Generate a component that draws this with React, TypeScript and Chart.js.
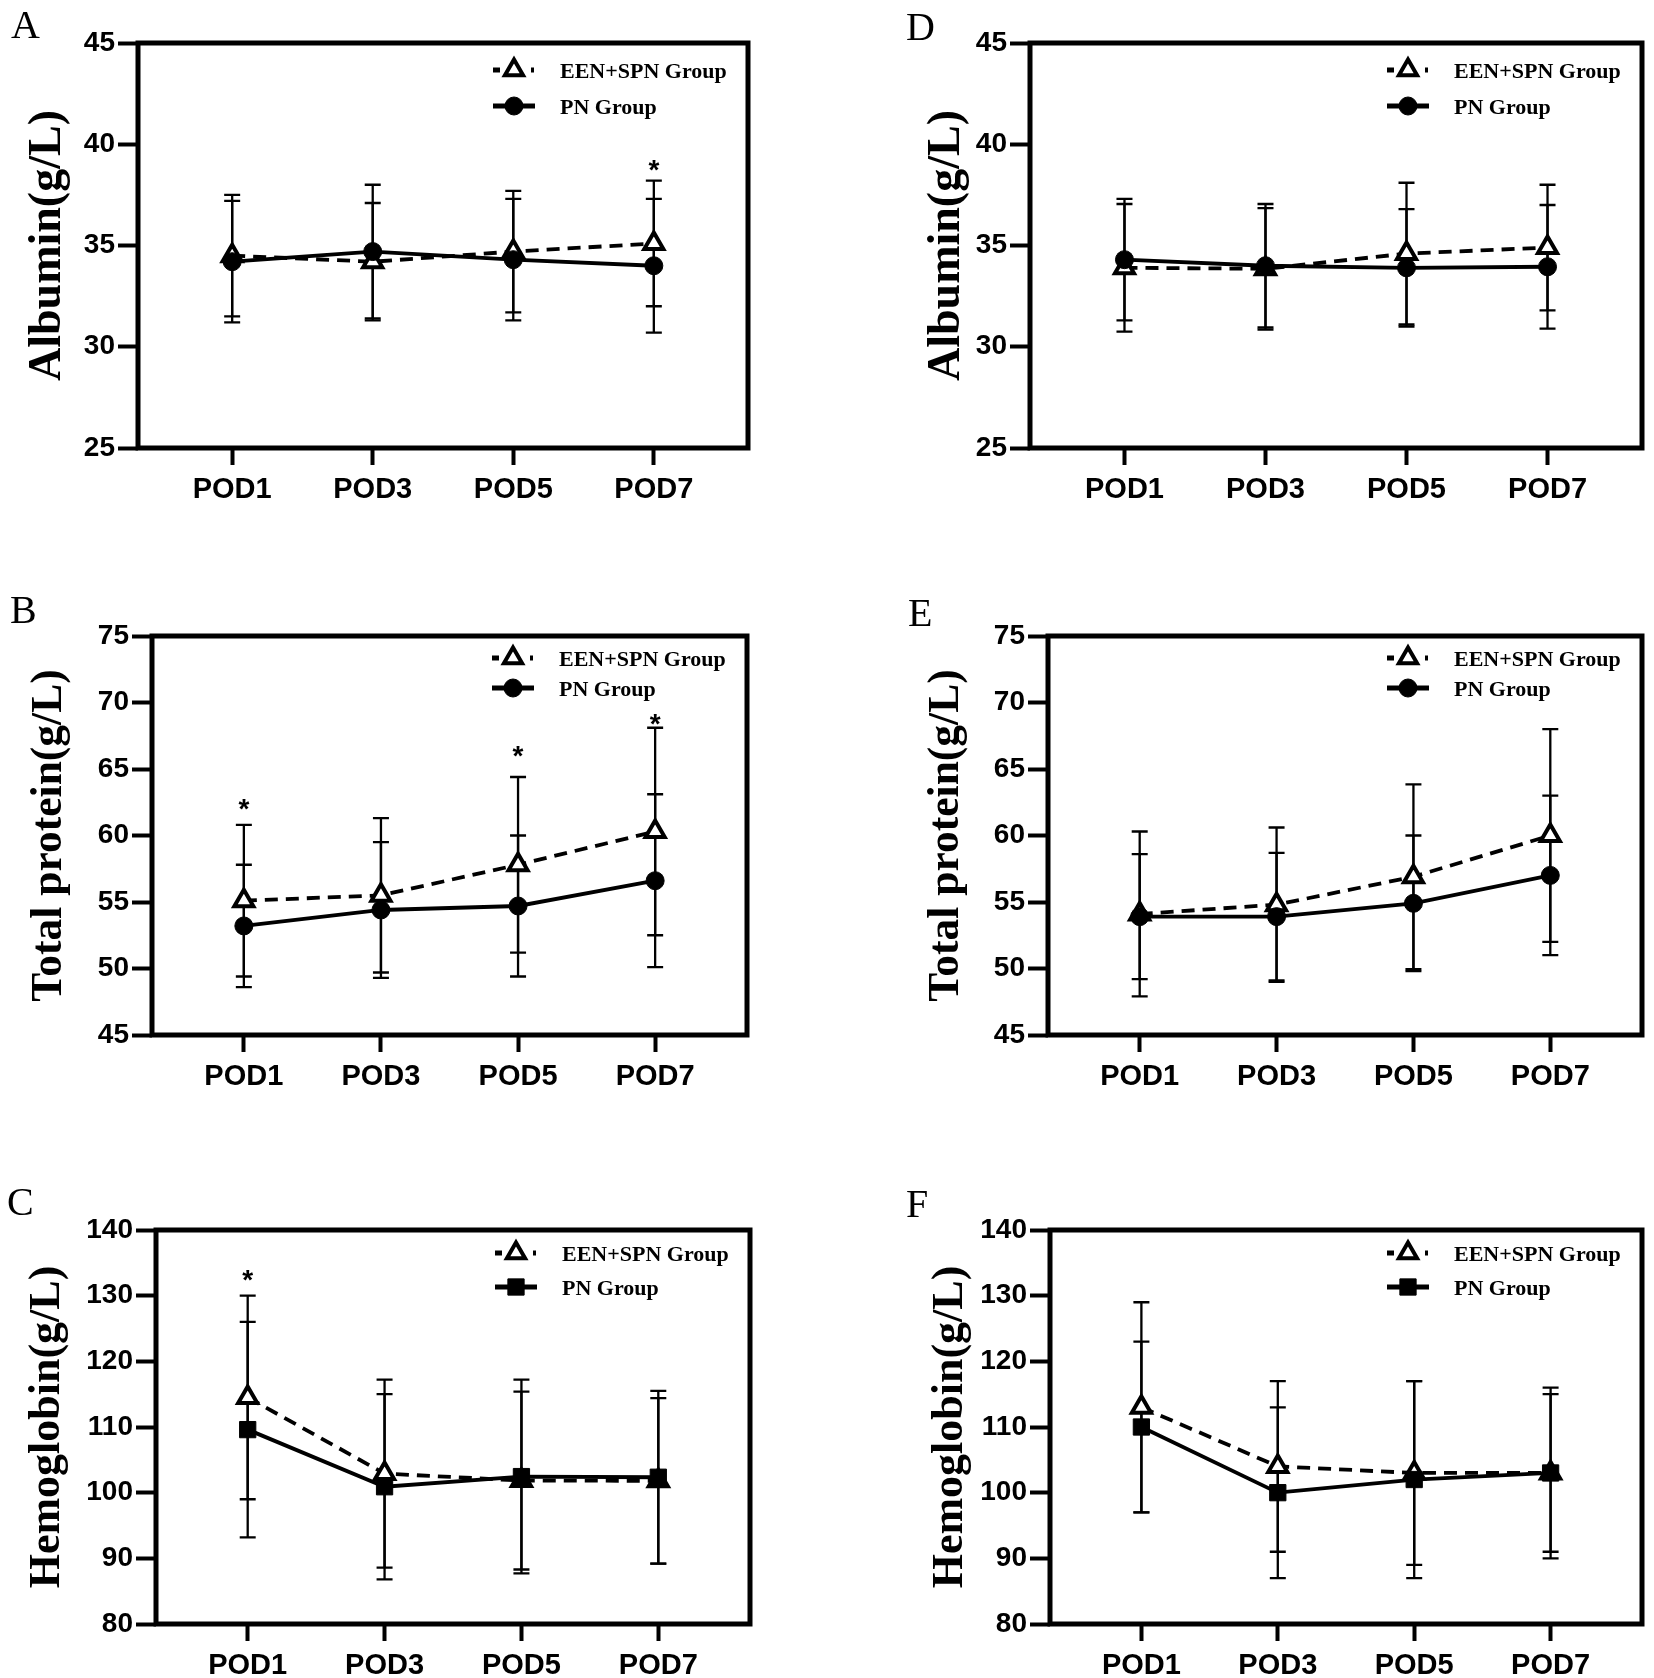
import React, { useEffect, useRef } from 'react';
import { Chart, registerables } from 'chart.js';

Chart.register(...registerables);

// ---------------- DATA ----------------
const categories = ['POD1', 'POD3', 'POD5', 'POD7'];
const seriesNames = ['EEN+SPN Group', 'PN Group'];

// A: Albumin (left)
const albuminEenA = [34.5, 34.2, 34.7, 35.1];
const albuminEenSdA = [3.0, 2.9, 3.0, 3.1];
const albuminPnA = [34.2, 34.7, 34.3, 34.0];
const albuminPnSdA = [3.0, 3.3, 3.0, 3.3];
const albuminSigA = [null, null, null, 39.1];

// D: Albumin (right)
const albuminEenD = [33.9, 33.85, 34.6, 34.9];
const albuminEenSdD = [3.15, 3.0, 3.5, 3.1];
const albuminPnD = [34.3, 34.0, 33.9, 33.95];
const albuminPnSdD = [3.0, 3.05, 2.9, 3.05];
const albuminSigD = [null, null, null, null];

// B: Total protein (left)
const proteinEenB = [55.1, 55.5, 57.8, 60.3];
const proteinEenSdB = [5.7, 5.8, 6.6, 7.8];
const proteinPnB = [53.2, 54.4, 54.7, 56.6];
const proteinPnSdB = [4.6, 5.1, 5.3, 6.5];
const proteinSigB = [62.5, null, 66.5, 68.9];

// E: Total protein (right)
const proteinEenE = [54.1, 54.8, 56.9, 60.0];
const proteinEenSdE = [6.2, 5.8, 6.95, 8.0];
const proteinPnE = [53.9, 53.9, 54.9, 57.0];
const proteinPnSdE = [4.7, 4.8, 5.1, 6.0];
const proteinSigE = [null, null, null, null];

// C: Hemoglobin (left)
const hemoEenC = [114.5, 102.9, 101.85, 101.8];
const hemoEenSdC = [15.5, 14.3, 13.55, 12.6];
const hemoPnC = [109.6, 100.9, 102.45, 102.35];
const hemoPnSdC = [16.4, 14.1, 14.75, 13.15];
const hemoSigC = [133.5, null, null, null];

// F: Hemoglobin (right)
const hemoEenF = [113, 104, 103, 103];
const hemoEenSdF = [16, 13, 14, 13];
const hemoPnF = [110, 100, 102, 103];
const hemoPnSdF = [13, 13, 15, 12];
const hemoSigF = [null, null, null, null];

// ---------------- LAYOUT ----------------
const X_MIN = -0.67;
const X_MAX = 3.67;
const SANS = "'Liberation Sans', Arial, sans-serif";
const SERIF = "'Liberation Serif', 'Times New Roman', serif";

type Panel = {
  letter: string;
  yTitle: string;
  yMin: number; yMax: number; yStep: number;
  een: number[]; eenSd: number[]; pn: number[]; pnSd: number[];
  sig: (number | null)[];
  pnStyle: 'circle' | 'rect';
  canvas: { x: number; y: number; w: number; h: number };
  plot: { l: number; t: number; r: number; b: number };
  titleCx: number; titleSize: number;
  legendRows: number[];
  letterPos: { x: number; y: number };
};

const LEFT_C = { x: 0, w: 830 };
const RIGHT_C = { x: 830, w: 824 };
const ROW1 = { y: 0, h: 520 };
const ROW2 = { y: 520, h: 575 };
const ROW3 = { y: 1095, h: 583 };

const panels: Panel[] = [
  {
    letter: 'A', yTitle: 'Albumin(g/L)', yMin: 25, yMax: 45, yStep: 5,
    een: albuminEenA, eenSd: albuminEenSdA, pn: albuminPnA, pnSd: albuminPnSdA, sig: albuminSigA, pnStyle: 'circle',
    canvas: { ...LEFT_C, ...ROW1 }, plot: { l: 138, t: 43, r: 748, b: 448 },
    titleCx: 48, titleSize: 46, legendRows: [27, 63], letterPos: { x: 11, y: 38 },
  },
  {
    letter: 'D', yTitle: 'Albumin(g/L)', yMin: 25, yMax: 45, yStep: 5,
    een: albuminEenD, eenSd: albuminEenSdD, pn: albuminPnD, pnSd: albuminPnSdD, sig: albuminSigD, pnStyle: 'circle',
    canvas: { ...RIGHT_C, ...ROW1 }, plot: { l: 1030, t: 43, r: 1642, b: 448 },
    titleCx: 947, titleSize: 46, legendRows: [27, 63], letterPos: { x: 906, y: 40 },
  },
  {
    letter: 'B', yTitle: 'Total protein(g/L)', yMin: 45, yMax: 75, yStep: 5,
    een: proteinEenB, eenSd: proteinEenSdB, pn: proteinPnB, pnSd: proteinPnSdB, sig: proteinSigB, pnStyle: 'circle',
    canvas: { ...LEFT_C, ...ROW2 }, plot: { l: 152, t: 636, r: 747, b: 1035 },
    titleCx: 50, titleSize: 43.5, legendRows: [22, 52], letterPos: { x: 10, y: 623 },
  },
  {
    letter: 'E', yTitle: 'Total protein(g/L)', yMin: 45, yMax: 75, yStep: 5,
    een: proteinEenE, eenSd: proteinEenSdE, pn: proteinPnE, pnSd: proteinPnSdE, sig: proteinSigE, pnStyle: 'circle',
    canvas: { ...RIGHT_C, ...ROW2 }, plot: { l: 1048, t: 636, r: 1642, b: 1035 },
    titleCx: 947, titleSize: 43.5, legendRows: [22, 52], letterPos: { x: 908, y: 626 },
  },
  {
    letter: 'C', yTitle: 'Hemoglobin(g/L)', yMin: 80, yMax: 140, yStep: 10,
    een: hemoEenC, eenSd: hemoEenSdC, pn: hemoPnC, pnSd: hemoPnSdC, sig: hemoSigC, pnStyle: 'rect',
    canvas: { ...LEFT_C, ...ROW3 }, plot: { l: 156, t: 1230, r: 750, b: 1624 },
    titleCx: 48, titleSize: 44, legendRows: [23, 57], letterPos: { x: 7, y: 1215 },
  },
  {
    letter: 'F', yTitle: 'Hemoglobin(g/L)', yMin: 80, yMax: 140, yStep: 10,
    een: hemoEenF, eenSd: hemoEenSdF, pn: hemoPnF, pnSd: hemoPnSdF, sig: hemoSigF, pnStyle: 'rect',
    canvas: { ...RIGHT_C, ...ROW3 }, plot: { l: 1050, t: 1230, r: 1642, b: 1624 },
    titleCx: 951, titleSize: 44, legendRows: [23, 57], letterPos: { x: 906, y: 1217 },
  },
];

// ---------------- PLUGIN ----------------
function drawMarker(ctx: CanvasRenderingContext2D, style: string, x: number, y: number, r: number, fill: string, bw: number) {
  ctx.save();
  ctx.beginPath();
  if (style === 'triangle') {
    for (let k = 0; k < 3; k++) {
      const a = (k * 2 * Math.PI) / 3;
      const px = x + Math.sin(a) * r;
      const py = y - Math.cos(a) * r;
      if (k === 0) ctx.moveTo(px, py); else ctx.lineTo(px, py);
    }
    ctx.closePath();
  } else if (style === 'rect') {
    const s = r * Math.SQRT1_2;
    ctx.rect(x - s, y - s, 2 * s, 2 * s);
  } else {
    ctx.arc(x, y, r, 0, Math.PI * 2);
  }
  ctx.fillStyle = fill;
  ctx.fill();
  ctx.lineWidth = bw;
  ctx.strokeStyle = '#000';
  ctx.lineJoin = 'miter';
  ctx.stroke();
  ctx.restore();
}

const decorPlugin = {
  id: 'panelDecor',
  beforeDatasetsDraw(chart: any) {
    const ctx: CanvasRenderingContext2D = chart.ctx;
    const ys = chart.scales.y;
    ctx.save();
    ctx.strokeStyle = '#000';
    ctx.lineWidth = 2.3;
    chart.data.datasets.forEach((ds: any, di: number) => {
      const meta = chart.getDatasetMeta(di);
      ds.data.forEach((pt: any, i: number) => {
        const el = meta.data[i];
        const sd = ds.sd[i];
        const y1 = ys.getPixelForValue(pt.y + sd);
        const y2 = ys.getPixelForValue(pt.y - sd);
        ctx.beginPath();
        ctx.moveTo(el.x, y1); ctx.lineTo(el.x, y2);
        ctx.moveTo(el.x - 8, y1); ctx.lineTo(el.x + 8, y1);
        ctx.moveTo(el.x - 8, y2); ctx.lineTo(el.x + 8, y2);
        ctx.stroke();
      });
    });
    ctx.restore();
  },
  afterDraw(chart: any, _args: any, opts: any) {
    const ctx: CanvasRenderingContext2D = chart.ctx;
    const { left, top, right, bottom } = chart.chartArea;
    const xs = chart.scales.x;
    const ys = chart.scales.y;
    ctx.save();
    // frame
    ctx.strokeStyle = '#000';
    ctx.lineWidth = 5;
    ctx.lineJoin = 'miter';
    ctx.strokeRect(left, top, right - left, bottom - top);

    // significance asterisks
    ctx.fillStyle = '#000';
    ctx.font = `bold 28px ${SANS}`;
    ctx.textAlign = 'center';
    ctx.textBaseline = 'alphabetic';
    (opts.sig || []).forEach((v: number | null, i: number) => {
      if (v === null || v === undefined) return;
      const x = xs.getPixelForValue(i);
      const y = ys.getPixelForValue(v);
      ctx.fillText('*', x, y + 0.575 * 28);
    });

    // legend
    const tx = right - 188;
    const sx = tx - 46;
    const rows: number[] = opts.legendRows || [];
    chart.data.datasets.forEach((ds: any, k: number) => {
      const ry = top + rows[k];
      ctx.save();
      ctx.strokeStyle = '#000';
      ctx.lineWidth = 5;
      ctx.lineCap = 'butt';
      if (ds.borderDash && ds.borderDash.length) ctx.setLineDash([7, 31, 3, 100]);
      else ctx.setLineDash([]);
      ctx.beginPath();
      ctx.moveTo(sx - 21, ry);
      ctx.lineTo(sx + 21, ry);
      ctx.stroke();
      ctx.restore();
      drawMarker(ctx, ds.pointStyle, sx, ry, ds.pointStyle === 'triangle' ? 10.5 : ds.pointStyle === 'rect' ? 11.5 : 9,
        ds.pointBackgroundColor, ds.pointStyle === 'triangle' ? 4 : 1);
      ctx.fillStyle = '#000';
      ctx.font = `bold 22px ${SERIF}`;
      ctx.textAlign = 'left';
      ctx.textBaseline = 'alphabetic';
      ctx.fillText(ds.label, tx, ry + 7.5);
    });

    // panel letter
    ctx.fillStyle = '#000';
    ctx.font = `40px ${SERIF}`;
    ctx.textAlign = 'left';
    ctx.textBaseline = 'alphabetic';
    ctx.fillText(opts.letter, opts.letterX, opts.letterY);
    ctx.restore();
  },
};

function makeChart(canvas: HTMLCanvasElement, p: Panel) {
  const cw = p.canvas.w;
  const ch = p.canvas.h;
  const pl = p.plot.l - p.canvas.x;
  const pt = p.plot.t - p.canvas.y;
  const pr = p.plot.r - p.canvas.x;
  const pb = p.plot.b - p.canvas.y;
  const titleLine = p.titleSize * 1.2;
  const titlePad = p.titleCx - p.canvas.x - titleLine / 2;

  return new Chart(canvas, {
    type: 'line',
    data: {
      datasets: [
        {
          label: seriesNames[0],
          data: p.een.map((v, i) => ({ x: i, y: v })),
          sd: p.eenSd,
          order: 1,
          borderColor: '#000',
          borderWidth: 3.8,
          borderDash: [13, 8],
          pointStyle: 'triangle',
          pointRadius: 11,
          pointBorderWidth: 4,
          pointBackgroundColor: '#fff',
          pointBorderColor: '#000',
          tension: 0,
        } as any,
        {
          label: seriesNames[1],
          data: p.pn.map((v, i) => ({ x: i, y: v })),
          sd: p.pnSd,
          order: 0,
          borderColor: '#000',
          borderWidth: 3.8,
          pointStyle: p.pnStyle,
          pointRadius: p.pnStyle === 'rect' ? 11.5 : 9,
          pointBorderWidth: 1,
          pointBackgroundColor: '#000',
          pointBorderColor: '#000',
          tension: 0,
        } as any,
      ],
    },
    options: {
      responsive: false,
      maintainAspectRatio: false,
      animation: false,
      events: [],
      layout: { autoPadding: false, padding: { left: 0, top: pt, right: cw - pr, bottom: 0 } },
      plugins: {
        legend: { display: false },
        tooltip: { enabled: false },
        panelDecor: {
          sig: p.sig,
          legendRows: p.legendRows,
          letter: p.letter,
          letterX: p.letterPos.x - p.canvas.x,
          letterY: p.letterPos.y - p.canvas.y,
        },
      } as any,
      scales: {
        x: {
          type: 'linear',
          min: X_MIN,
          max: X_MAX,
          bounds: 'data',
          afterFit: (s: any) => { s.height = ch - pb; },
          afterBuildTicks: (s: any) => { s.ticks = categories.map((_, i) => ({ value: i })); },
          ticks: {
            autoSkip: false,
            maxRotation: 0,
            padding: 8,
            color: '#000',
            font: { family: SANS, size: 29, weight: 'bold' },
            callback: (v: any) => categories[v as number] ?? '',
          },
          grid: { drawOnChartArea: false, drawTicks: true, tickLength: 17, tickWidth: 4, tickColor: '#000', color: '#000' },
          border: { display: false },
        },
        y: {
          type: 'linear',
          min: p.yMin,
          max: p.yMax,
          afterFit: (s: any) => { s.width = pl; },
          ticks: {
            stepSize: p.yStep,
            padding: 3,
            color: '#000',
            font: { family: SANS, size: 28, weight: 'bold' },
          },
          grid: { drawOnChartArea: false, drawTicks: true, tickLength: 20, tickWidth: 4, tickColor: '#000', color: '#000' },
          border: { display: false },
          title: {
            display: true,
            text: p.yTitle,
            color: '#000',
            font: { family: SERIF, size: p.titleSize, weight: 'bold', lineHeight: 1.2 },
            padding: { top: titlePad, bottom: 0 },
          },
        },
      },
    } as any,
    plugins: [decorPlugin as any],
  });
}

export default function App() {
  const refs = useRef<(HTMLCanvasElement | null)[]>([]);
  useEffect(() => {
    const charts = panels.map((p, i) => makeChart(refs.current[i] as HTMLCanvasElement, p));
    return () => charts.forEach((c) => c.destroy());
  }, []);
  return (
    <div style={{ position: 'absolute', left: 0, top: 0, width: 1654, height: 1678, background: '#fff', overflow: 'hidden' }}>
      {panels.map((p, i) => (
        <canvas
          key={p.letter}
          ref={(el) => { refs.current[i] = el; }}
          width={p.canvas.w}
          height={p.canvas.h}
          style={{ position: 'absolute', left: p.canvas.x, top: p.canvas.y, width: p.canvas.w, height: p.canvas.h }}
        />
      ))}
    </div>
  );
}
